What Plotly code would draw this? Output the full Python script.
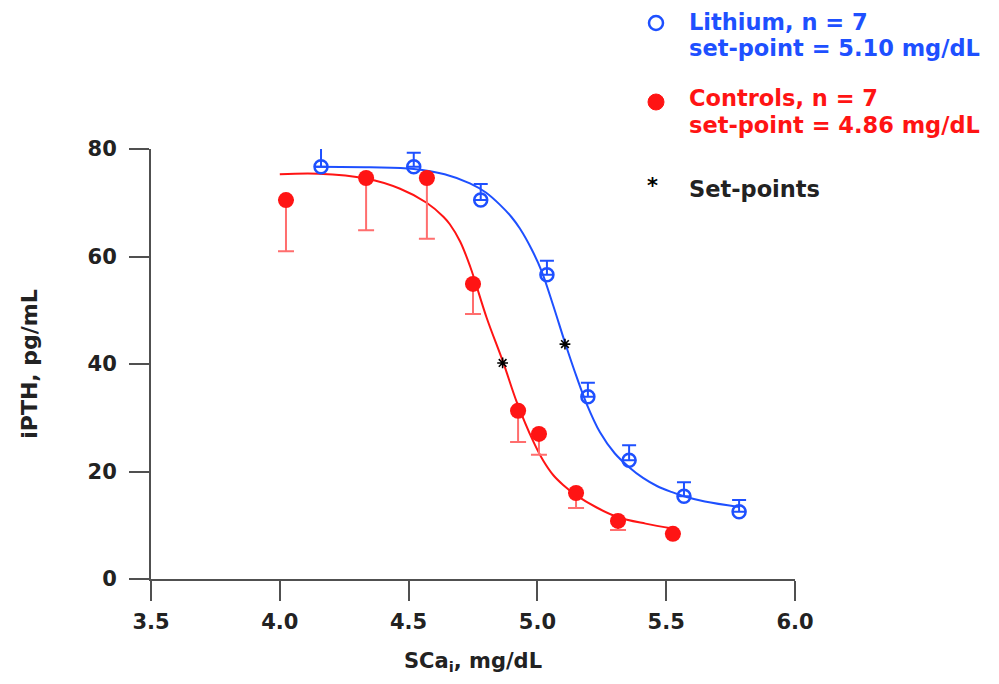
import plotly.graph_objects as go

# ---- data ----
li_x = [4.16, 4.52, 4.78, 5.037, 5.196, 5.356, 5.569, 5.783]
li_y = [76.7, 76.7, 70.5, 56.6, 33.9, 22.1, 15.4, 12.5]
li_err = [5.3, 2.6, 3.0, 2.6, 2.6, 2.8, 2.6, 2.2]

ct_x = [4.024, 4.335, 4.571, 4.75, 4.925, 5.006, 5.15, 5.313, 5.526]
ct_y = [70.5, 74.6, 74.6, 54.9, 31.3, 27.0, 16.0, 10.8, 8.4]
ct_err = [9.5, 9.7, 11.3, 5.6, 5.8, 3.9, 2.8, 1.7, 0.0]

# fitted curves
li_cx = [4.14, 4.35, 4.52, 4.64, 4.738, 4.80, 4.855, 4.90, 4.932, 4.978, 5.017, 5.062,
         5.107, 5.153, 5.191, 5.243, 5.300, 5.356, 5.41, 5.464, 5.52, 5.569, 5.65, 5.783]
li_cy = [76.7, 76.6, 76.3, 75.3, 73.6, 71.9, 69.6, 67.3, 65.2, 61.3, 57.2, 50.8,
         44.0, 37.5, 32.6, 27.3, 23.4, 20.8, 18.8, 17.3, 16.2, 15.4, 14.4, 13.4]

ct_cx = [4.00, 4.15, 4.335, 4.467, 4.570, 4.635, 4.66, 4.70, 4.74, 4.803, 4.868, 4.920,
         4.984, 5.023, 5.062, 5.10, 5.15, 5.23, 5.313, 5.42, 5.526]
ct_cy = [75.3, 75.4, 74.5, 72.6, 70.0, 67.4, 66.0, 62.8, 58.0, 48.6, 40.2, 32.9,
         25.6, 22.0, 19.3, 17.5, 15.6, 13.3, 11.5, 10.3, 9.4]

sp_x = [4.865, 5.107]
sp_y = [40.2, 43.7]

x_ticks = [3.5, 4.0, 4.5, 5.0, 5.5, 6.0]
y_ticks = [0, 20, 40, 60, 80]

BLUE = "rgb(30,80,255)"
RED = "rgb(255,20,20)"
RED_ERR = "rgb(255,110,110)"
AX = "#505050"
TXT = "#222222"
FONT = "DejaVu Sans"

fig = go.Figure()

fig.add_trace(go.Scatter(x=li_cx, y=li_cy, mode="lines",
                         line=dict(color=BLUE, width=2, shape="spline", smoothing=1.0),
                         showlegend=False, hoverinfo="skip"))
fig.add_trace(go.Scatter(x=ct_cx, y=ct_cy, mode="lines",
                         line=dict(color=RED, width=2, shape="spline", smoothing=1.0),
                         showlegend=False, hoverinfo="skip"))

fig.add_trace(go.Scatter(
    x=li_x, y=li_y, mode="markers",
    marker=dict(symbol="circle-open", size=13, color=BLUE, line=dict(width=2.5, color=BLUE)),
    error_y=dict(type="data", array=li_err, arrayminus=[0] * len(li_err), color=BLUE, thickness=2, width=7),
    showlegend=False))

fig.add_trace(go.Scatter(
    x=ct_x, y=ct_y, mode="markers",
    marker=dict(symbol="circle", size=16, color=RED),
    error_y=dict(type="data", array=[0] * len(ct_err), arrayminus=ct_err, color=RED_ERR, thickness=2, width=8),
    showlegend=False))

fig.add_trace(go.Scatter(
    x=sp_x, y=sp_y, mode="markers",
    marker=dict(symbol="asterisk-open", size=9, color="black", line=dict(width=1.6, color="black")),
    showlegend=False))

# ---- custom legend (positions in screenshot pixels -> paper coords) ----
def px2paper(px, py):
    return (px - 151) / 644.0, (579 - py) / 430.0

annots = []
def txt(px, py, s, color, size=22.5):
    x, y = px2paper(px, py)
    annots.append(dict(x=x, y=y, xref="paper", yref="paper", text=s, showarrow=False,
                       xanchor="left", yanchor="middle",
                       font=dict(family=FONT, size=size, color=color, weight="bold")))

txt(687, 22, "Lithium, n = 7", BLUE)
txt(687, 48, "set-point = 5.10 mg/dL", BLUE)
txt(687, 98, "Controls, n = 7", RED)
txt(687, 125, "set-point = 4.86 mg/dL", RED)
txt(687, 189, "Set-points", TXT)
txt(645, 186, "*", "black", 21)

shapes = []
cx, cy = px2paper(656, 23)
shapes.append(dict(type="circle", xref="paper", yref="paper", xsizemode="pixel", ysizemode="pixel",
                   xanchor=cx, yanchor=cy, x0=-7, x1=7, y0=-7, y1=7, line=dict(color=BLUE, width=2.5)))
cx, cy = px2paper(656, 102)
shapes.append(dict(type="circle", xref="paper", yref="paper", xsizemode="pixel", ysizemode="pixel",
                   xanchor=cx, yanchor=cy, x0=-8, x1=8, y0=-8, y1=8, fillcolor=RED, line=dict(color=RED, width=1)))

# page body has an 8px margin, so the figure is laid out 8px up/left
fig.update_layout(
    width=999, height=684,
    margin=dict(l=143, r=212, t=141, b=113),
    paper_bgcolor="white", plot_bgcolor="white",
    annotations=annots, shapes=shapes,
    font=dict(family=FONT, color=TXT),
)

fig.update_xaxes(range=[3.5, 6.0], tickvals=x_ticks, ticktext=["%.1f" % v for v in x_ticks],
                 showgrid=False, zeroline=False, showline=True, linecolor=AX, linewidth=2,
                 ticks="outside", ticklen=20, tickwidth=2, tickcolor=AX, automargin=False,
                 ticklabelstandoff=3,
                 tickfont=dict(family=FONT, size=21, color=TXT, weight="bold"),
                 title=dict(text="SCa<sub>i</sub>, mg/dL", standoff=20,
                            font=dict(family=FONT, size=21, color=TXT, weight="bold")))
fig.update_yaxes(range=[0, 80], tickvals=y_ticks,
                 showgrid=False, zeroline=False, showline=True, linecolor=AX, linewidth=2,
                 ticks="outside", ticklen=20, tickwidth=2, tickcolor=AX, automargin=False,
                 ticklabelstandoff=8,
                 tickfont=dict(family=FONT, size=21, color=TXT, weight="bold"),
                 title=dict(text="iPTH, pg/mL", standoff=44,
                            font=dict(family=FONT, size=22, color=TXT, weight="bold")))

fig.write_html("out.html")
